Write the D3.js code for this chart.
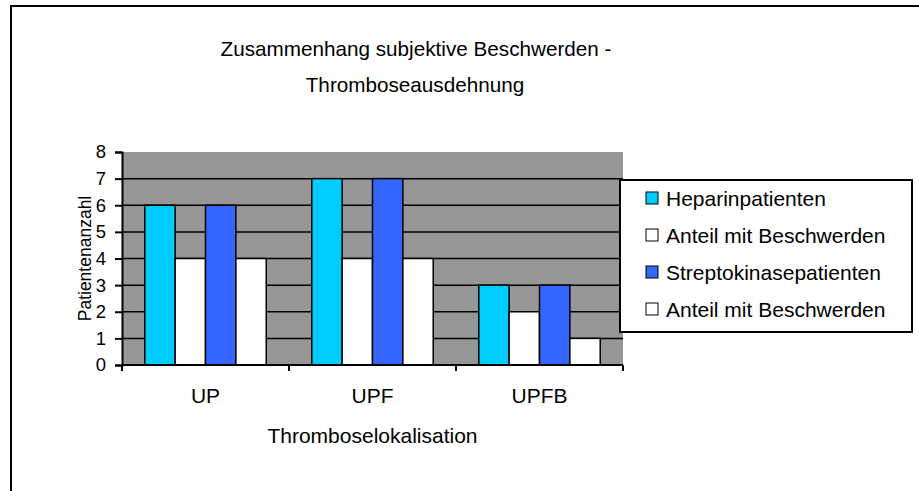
<!DOCTYPE html>
<html>
<head>
<meta charset="utf-8">
<script src="https://cdn.jsdelivr.net/npm/d3@7"></script>
<style>
  body { margin: 0; background: #fff; }
  text { font-family: "Liberation Sans", Arial, sans-serif; fill: #000; }
</style>
</head>
<body>
<div id="chart"></div>
<script>
// data
var categories = ["UP", "UPF", "UPFB"];
var seriesNames = ["Heparinpatienten", "Anteil mit Beschwerden", "Streptokinasepatienten", "Anteil mit Beschwerden"];
var heparin = [6, 7, 3];
var heparinBeschwerden = [4, 4, 2];
var strepto = [6, 7, 3];
var streptoBeschwerden = [4, 4, 1];
var yTicks = [0, 1, 2, 3, 4, 5, 6, 7, 8];

var seriesValues = [heparin, heparinBeschwerden, strepto, streptoBeschwerden];
var seriesColors = ["#00ccff", "#ffffff", "#3366ff", "#ffffff"];

var svgWidth = 919;
var svgHeight = 491;
var fontSize = "21px";

// plot area
var plot = { left: 122, right: 623, top: 152, bottom: 365 };

var svg = d3.select("#chart")
            .append("svg")
            .attr("width", svgWidth)
            .attr("height", svgHeight);

// outer chart border (runs off the right / bottom edges)
svg.append("rect")
   .attr("x", 11)
   .attr("y", 6)
   .attr("width", 940)
   .attr("height", 520)
   .attr("fill", "#fff")
   .attr("stroke", "#000")
   .attr("stroke-width", 2);

var x0 = d3.scaleBand()
           .domain(categories)
           .range([plot.left, plot.right]);

// gap width 150% -> 4 bars + 1.5 bar of gap per category
var barW = x0.bandwidth() / 5.5;

var yScale = d3.scaleLinear()
               .domain([0, 8])
               .range([plot.bottom, plot.top]);

// gray plot background
svg.append("rect")
   .attr("x", plot.left)
   .attr("y", plot.top)
   .attr("width", plot.right - plot.left)
   .attr("height", plot.bottom - plot.top)
   .attr("fill", "#969696");

// gridlines
svg.append("g")
   .selectAll("line")
   .data(yTicks.filter(d => d > 0 && d < 8))
   .enter()
   .append("line")
   .attr("x1", plot.left)
   .attr("x2", plot.right)
   .attr("y1", d => yScale(d))
   .attr("y2", d => yScale(d))
   .attr("stroke", "#000")
   .attr("stroke-width", 1.5);

// bars
var groups = svg.append("g")
                .selectAll("g")
                .data(categories)
                .enter()
                .append("g");

groups.selectAll("rect")
      .data((c, ci) => seriesValues.map((s, si) => ({ cat: c, si: si, value: s[ci] })))
      .enter()
      .append("rect")
      .attr("x", d => x0(d.cat) + 0.75 * barW + d.si * barW)
      .attr("y", d => yScale(d.value))
      .attr("width", barW)
      .attr("height", d => yScale(0) - yScale(d.value))
      .attr("fill", d => seriesColors[d.si])
      .attr("stroke", "#000")
      .attr("stroke-width", 1.5);

// y axis
var leftAxis = d3.axisLeft(yScale)
                 .tickValues(yTicks)
                 .tickSize(7)
                 .tickPadding(9)
                 .tickFormat(d3.format("d"));

var yAxis = svg.append("g")
               .attr("transform", `translate(${plot.left}, 0)`)
               .call(leftAxis);
yAxis.select(".domain").attr("stroke", "#000").attr("stroke-width", 2);
yAxis.selectAll(".tick line").attr("stroke", "#000").attr("stroke-width", 2);
yAxis.selectAll("text")
     .attr("font-size", "18.5px")
     .attr("font-family", "Liberation Sans, Arial, sans-serif")
     .attr("fill", "#000");

// x axis (ticks at category boundaries)
var xAxisG = svg.append("g");
xAxisG.append("line")
      .attr("x1", plot.left)
      .attr("x2", plot.right)
      .attr("y1", plot.bottom)
      .attr("y2", plot.bottom)
      .attr("stroke", "#000")
      .attr("stroke-width", 2);

var boundaries = categories.map(c => x0(c)).concat([plot.right]);
xAxisG.selectAll("line.tk")
      .data(boundaries)
      .enter()
      .append("line")
      .attr("class", "tk")
      .attr("x1", d => d)
      .attr("x2", d => d)
      .attr("y1", plot.bottom)
      .attr("y2", plot.bottom + 6)
      .attr("stroke", "#000")
      .attr("stroke-width", 2);

xAxisG.selectAll("text")
      .data(categories)
      .enter()
      .append("text")
      .attr("x", d => x0(d) + x0.bandwidth() / 2)
      .attr("y", 403)
      .attr("text-anchor", "middle")
      .attr("font-size", fontSize)
      .text(d => d);

// axis titles
svg.append("text")
   .attr("x", (plot.left + plot.right) / 2)
   .attr("y", 443)
   .attr("text-anchor", "middle")
   .attr("font-size", fontSize)
   .text("Thromboselokalisation");

svg.append("text")
   .attr("transform", `translate(91, ${(plot.top + plot.bottom) / 2}) rotate(-90)`)
   .attr("text-anchor", "middle")
   .attr("font-size", "17.5px")
   .text("Patientenanzahl");

// title
var title = svg.append("text")
               .attr("text-anchor", "middle")
               .attr("font-size", "20.7px");
title.append("tspan")
     .attr("x", 416)
     .attr("y", 56)
     .text("Zusammenhang subjektive Beschwerden -");
title.append("tspan")
     .attr("x", 415)
     .attr("y", 92)
     .text("Thromboseausdehnung");

// legend
var legend = svg.append("g");
legend.append("rect")
      .attr("x", 620)
      .attr("y", 180)
      .attr("width", 292)
      .attr("height", 152)
      .attr("fill", "#fff")
      .attr("stroke", "#000")
      .attr("stroke-width", 2);

var legendRows = legend.selectAll("g.item")
                       .data(seriesNames)
                       .enter()
                       .append("g")
                       .attr("class", "item")
                       .attr("transform", (d, i) => `translate(646, ${198 + i * 37})`);

legendRows.append("rect")
          .attr("x", 0)
          .attr("y", -6)
          .attr("width", 12)
          .attr("height", 12)
          .attr("fill", (d, i) => seriesColors[i])
          .attr("stroke", "#000")
          .attr("stroke-width", 1);

legendRows.append("text")
          .attr("x", 20)
          .attr("y", 7.5)
          .attr("font-size", fontSize)
          .text(d => d);
</script>
</body>
</html>
